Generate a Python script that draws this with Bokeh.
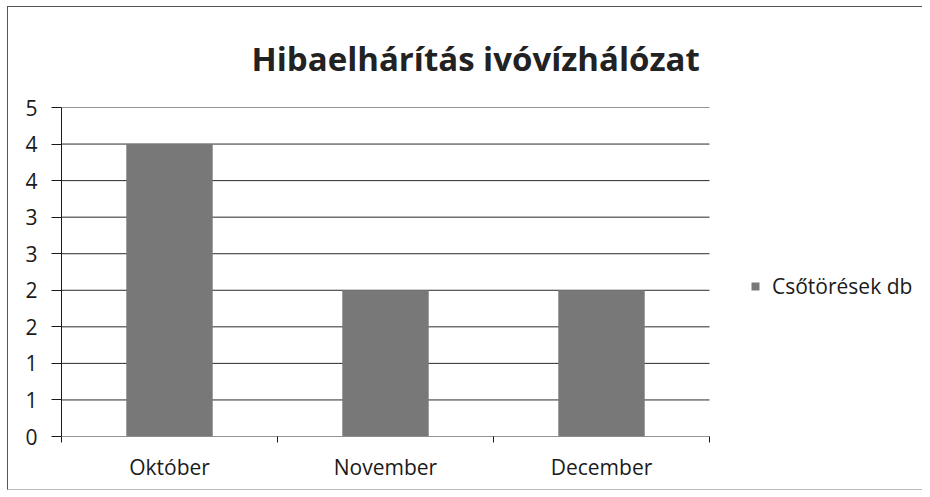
from bokeh.plotting import figure
from bokeh.models import FixedTicker, Range1d, Legend, LegendItem, ColumnDataSource
from bokeh.embed import file_html
from bokeh.resources import INLINE

# ---- data ----
categories = ["Október", "November", "December"]
values = [4, 2, 2]
series_name = "Csőtörések db"
y_ticks = [0, 0.5, 1, 1.5, 2, 2.5, 3, 3.5, 4, 4.5]
y_tick_labels = ["0", "1", "1", "2", "2", "3", "3", "4", "4", "5"]
title_text = "Hibaelhárítás ivóvízhálózat"

FONT = "Open Sans"
BAR = "#787878"
INK = "#1a1a1a"

# layout (pixels)
FIG_W, FIG_H = 915, 484
LEFT, TOP, BOTTOM = 53, 100, 55
CHART_W = 648                      # width of the category area
FRAME_W = FIG_W - LEFT             # frame reaches the right edge (room for legend)

n = len(categories)
xc = [i + 0.5 for i in range(n)]
src = ColumnDataSource(dict(x=xc, top=values, cat=categories))
x_end = n * FRAME_W / CHART_W

p = figure(width=FIG_W, height=FIG_H, output_backend="svg", toolbar_location=None,
           x_range=Range1d(0, x_end), y_range=Range1d(0, max(y_ticks)),
           min_border_left=LEFT, min_border_right=0, min_border_top=TOP,
           min_border_bottom=BOTTOM)
p.outline_line_color = None
p.background_fill_color = "white"
p.border_fill_color = "white"
p.styles = {"margin-left": "7px", "margin-top": "6px",
            "border-top": "1px solid #555", "border-left": "1px solid #555",
            "border-bottom": "1px solid #bbb"}

# title
p.title.text = title_text
p.title.align = "left"
p.title.offset = 190
p.title.standoff = 53
p.title.text_baseline = "alphabetic"
p.title.text_font = FONT
p.title.text_font_style = "bold"
p.title.text_font_size = "33px"
p.title.text_color = "#222222"

# horizontal gridlines over the category area only
p.segment(x0=[0] * len(y_ticks), x1=[n] * len(y_ticks), y0=y_ticks, y1=y_ticks,
          line_color="#2a2a2a", line_width=1)

r = p.vbar(x="x", top="top", width=0.4, source=src, fill_color=BAR, line_color=None)

# y axis
p.yaxis.ticker = FixedTicker(ticks=y_ticks, minor_ticks=[])
p.yaxis.major_label_overrides = {t: l for t, l in zip(y_ticks, y_tick_labels)}
p.yaxis.major_tick_out = 10
p.yaxis.major_tick_in = 0
p.yaxis.minor_tick_out = 0
p.yaxis.axis_line_color = INK
p.yaxis.major_tick_line_color = INK
p.yaxis.major_label_text_font = FONT
p.yaxis.major_label_text_font_size = "21px"
p.yaxis.major_label_text_color = INK
p.yaxis.major_label_standoff = 14

# x axis
p.xaxis.ticker = FixedTicker(ticks=xc, minor_ticks=list(range(n + 1)))
p.xaxis.major_label_overrides = {x: c for x, c in zip(xc, categories)}
p.xaxis.major_tick_out = 0
p.xaxis.major_tick_in = 0
p.xaxis.minor_tick_out = 6
p.xaxis.minor_tick_in = 0
p.xaxis.minor_tick_line_color = INK
p.xaxis.axis_line_color = None
p.xaxis.major_label_text_font = FONT
p.xaxis.major_label_text_font_size = "21px"
p.xaxis.major_label_text_color = INK
p.xaxis.major_label_standoff = 10

# grid (drawn as segments above)
p.xgrid.grid_line_color = None
p.ygrid.grid_line_color = None

# legend
legend = Legend(items=[LegendItem(label=series_name, renderers=[r])],
                location=(689, 136), padding=0, margin=0, spacing=0,
                glyph_width=10, glyph_height=10, label_text_font=FONT,
                label_text_font_size="21px", label_text_color=INK,
                label_standoff=12, background_fill_alpha=0, border_line_color=None)
p.add_layout(legend, "center")

open("out.html", "w").write(file_html(p, INLINE))
